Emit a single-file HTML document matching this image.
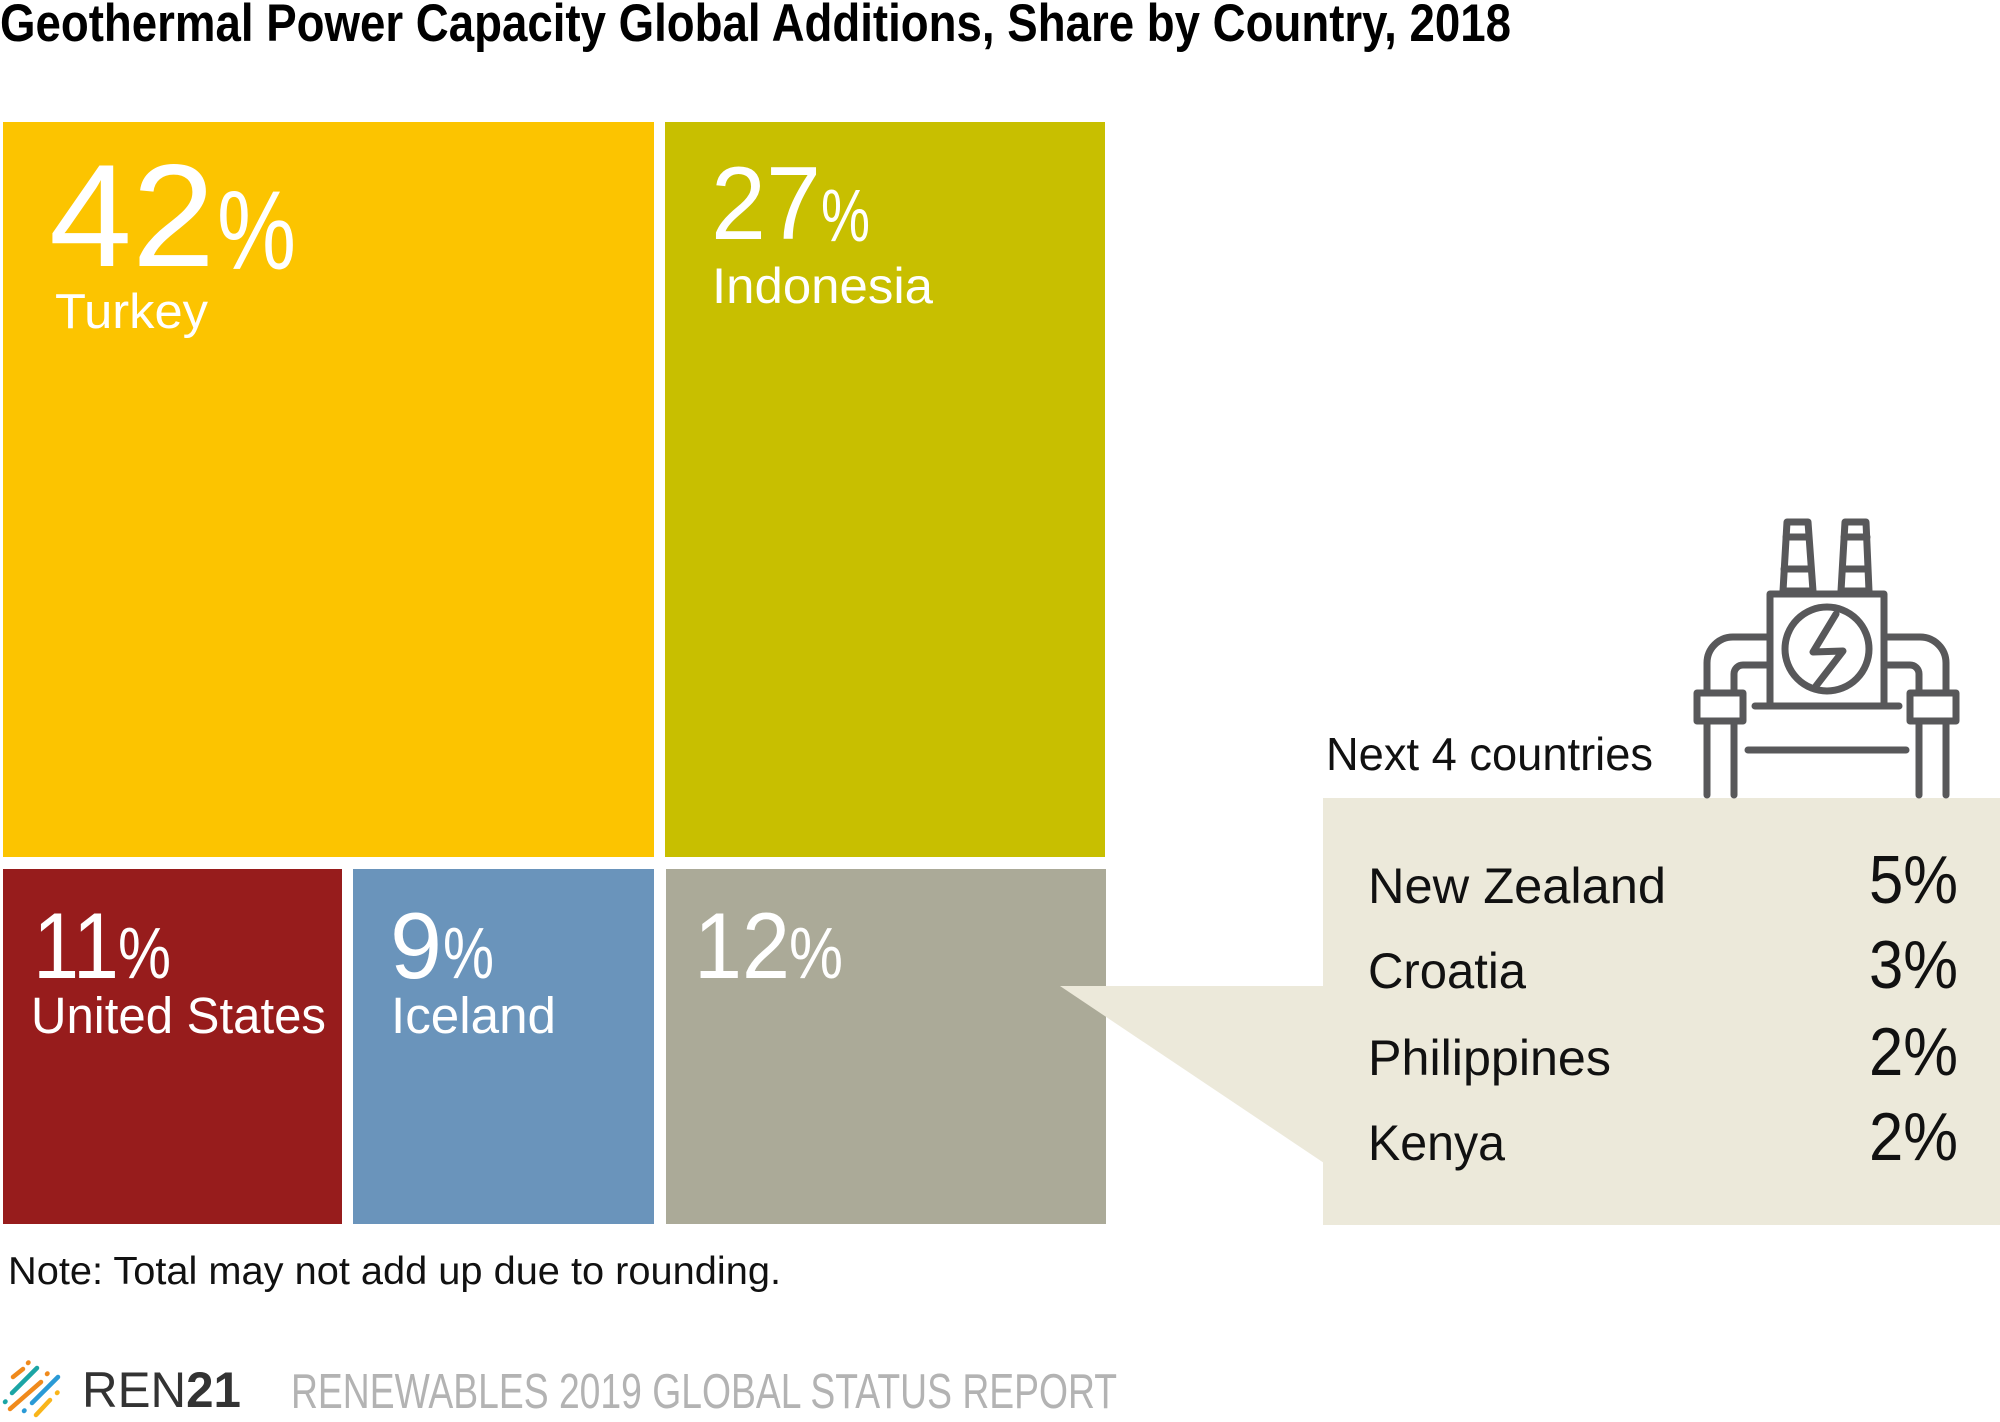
<!DOCTYPE html>
<html><head><meta charset="utf-8"><style>
html,body{margin:0;padding:0;background:#fff;}
svg{display:block;}
text{font-family:"Liberation Sans",sans-serif;}
.n{font-family:"Liberation Sans Narrow","Liberation Sans",sans-serif;}
</style></head><body>
<svg width="2000" height="1422" viewBox="0 0 2000 1422" xmlns="http://www.w3.org/2000/svg">
<rect width="2000" height="1422" fill="#fff"/>
<text class="n" x="0" y="41" font-size="53" font-weight="bold" fill="#000" textLength="1511" lengthAdjust="spacingAndGlyphs">Geothermal Power Capacity Global Additions, Share by Country, 2018</text>

<rect x="3" y="122" width="651" height="735" fill="#FCC400"/>
<rect x="665" y="122" width="440" height="735" fill="#C8BF00"/>
<rect x="3" y="869" width="339" height="355" fill="#971C1C"/>
<rect x="353" y="869" width="301" height="355" fill="#6A94BB"/>
<rect x="666" y="869" width="440" height="355" fill="#ABAA98"/>

<g fill="#fff">
<text x="49" y="266" font-size="146" textLength="166" lengthAdjust="spacingAndGlyphs">42</text>
<text x="217" y="269" font-size="112" textLength="79" lengthAdjust="spacingAndGlyphs">%</text>
<text x="55" y="328" font-size="49" textLength="153" lengthAdjust="spacingAndGlyphs">Turkey</text>

<text x="711" y="239" font-size="104" textLength="110" lengthAdjust="spacingAndGlyphs">27</text>
<text x="821" y="241" font-size="74" textLength="49" lengthAdjust="spacingAndGlyphs">%</text>
<text x="712" y="303" font-size="50" textLength="221" lengthAdjust="spacingAndGlyphs">Indonesia</text>

<text x="33" y="978" font-size="94" textLength="86" lengthAdjust="spacingAndGlyphs">11</text>
<text x="118" y="978" font-size="72" textLength="53" lengthAdjust="spacingAndGlyphs">%</text>
<text x="31" y="1033" font-size="51" textLength="295" lengthAdjust="spacingAndGlyphs">United States</text>

<text x="390" y="978" font-size="94" textLength="52" lengthAdjust="spacingAndGlyphs">9</text>
<text x="443" y="978" font-size="72" textLength="51" lengthAdjust="spacingAndGlyphs">%</text>
<text x="391" y="1033" font-size="51" textLength="165" lengthAdjust="spacingAndGlyphs">Iceland</text>

<text x="694" y="978" font-size="94" textLength="96" lengthAdjust="spacingAndGlyphs">12</text>
<text x="789" y="978" font-size="72" textLength="54" lengthAdjust="spacingAndGlyphs">%</text>
</g>

<rect x="1323" y="798" width="677" height="427" fill="#ECE9DA"/>
<polygon points="1060,986 1324,986 1324,1163" fill="#ECE9DA"/>

<text x="1326" y="770" font-size="46" fill="#111" textLength="327" lengthAdjust="spacingAndGlyphs">Next 4 countries</text>

<g fill="#111" font-size="50">
<text x="1368" y="903" textLength="298" lengthAdjust="spacingAndGlyphs">New Zealand</text>
<text x="1368" y="988" textLength="158" lengthAdjust="spacingAndGlyphs">Croatia</text>
<text x="1368" y="1075" textLength="243" lengthAdjust="spacingAndGlyphs">Philippines</text>
<text x="1368" y="1160" textLength="137" lengthAdjust="spacingAndGlyphs">Kenya</text>
</g>
<g fill="#111" font-size="68">
<text x="1869" y="903" textLength="89" lengthAdjust="spacingAndGlyphs">5%</text>
<text x="1869" y="988" textLength="89" lengthAdjust="spacingAndGlyphs">3%</text>
<text x="1869" y="1075" textLength="89" lengthAdjust="spacingAndGlyphs">2%</text>
<text x="1869" y="1160" textLength="89" lengthAdjust="spacingAndGlyphs">2%</text>
</g>

<!-- icon -->
<g fill="none" stroke="#58585A" stroke-width="7" stroke-linecap="round" stroke-linejoin="round">
<path d="M1787,522 L1808,522 L1813,591 L1783,591 Z"/>
<line x1="1786" y1="537" x2="1809" y2="537"/>
<line x1="1784" y1="569" x2="1811" y2="569"/>
<path d="M1845,522 L1866,522 L1869,591 L1841,591 Z"/>
<line x1="1844" y1="537" x2="1867" y2="537"/>
<line x1="1843" y1="569" x2="1868" y2="569"/>
<rect x="1770" y="594" width="114" height="112"/>
<line x1="1755" y1="706" x2="1899" y2="706"/>
<circle cx="1827" cy="649" r="42"/>
<polyline points="1836,614 1813,652 1843,651 1816,686"/>
<path d="M1770,637 H1733 A26,26 0 0 0 1707,663 V693"/>
<path d="M1770,665 H1743 A9,9 0 0 0 1734,674 V693"/>
<rect x="1697" y="693" width="46" height="28"/>
<line x1="1707" y1="721" x2="1707" y2="795"/>
<line x1="1734" y1="721" x2="1734" y2="795"/>
<path d="M1884,637 H1920 A26,26 0 0 1 1946,663 V693"/>
<path d="M1884,665 H1910 A9,9 0 0 1 1919,674 V693"/>
<rect x="1910" y="693" width="46" height="28"/>
<line x1="1946" y1="721" x2="1946" y2="795"/>
<line x1="1919" y1="721" x2="1919" y2="795"/>
<line x1="1748" y1="750" x2="1906" y2="750"/>
</g>

<text x="8" y="1284" font-size="39" fill="#111" textLength="773" lengthAdjust="spacingAndGlyphs">Note: Total may not add up due to rounding.</text>

<!-- logo -->
<g stroke-linecap="round" stroke-width="4.5" fill="none">
<line x1="13" y1="1377" x2="23" y2="1369" stroke="#F08A1C"/>
<line x1="28" y1="1363" x2="28.5" y2="1362.5" stroke="#F08A1C"/>
<line x1="12" y1="1393" x2="37" y2="1368" stroke="#1BA5A5"/>
<line x1="10" y1="1409" x2="41" y2="1382" stroke="#F08A1C"/>
<line x1="5" y1="1402" x2="5.5" y2="1401.5" stroke="#1BA5A5"/>
<line x1="32" y1="1403" x2="58" y2="1377" stroke="#2A9AD6"/>
<line x1="47" y1="1374" x2="47.5" y2="1373.5" stroke="#F08A1C"/>
<line x1="24" y1="1411" x2="24.5" y2="1410.5" stroke="#2A9AD6"/>
<line x1="36" y1="1415" x2="50" y2="1400" stroke="#F9B51A"/>
<line x1="57" y1="1393" x2="57.5" y2="1392.5" stroke="#F9B51A"/>
</g>
<text x="82" y="1407" font-size="50" fill="#333" textLength="159" lengthAdjust="spacingAndGlyphs">REN<tspan font-weight="bold">21</tspan></text>
<text class="n" x="291" y="1408" font-size="49" fill="#B3B3B3" textLength="826" lengthAdjust="spacingAndGlyphs">RENEWABLES 2019 GLOBAL STATUS REPORT</text>
</svg>
</body></html>
